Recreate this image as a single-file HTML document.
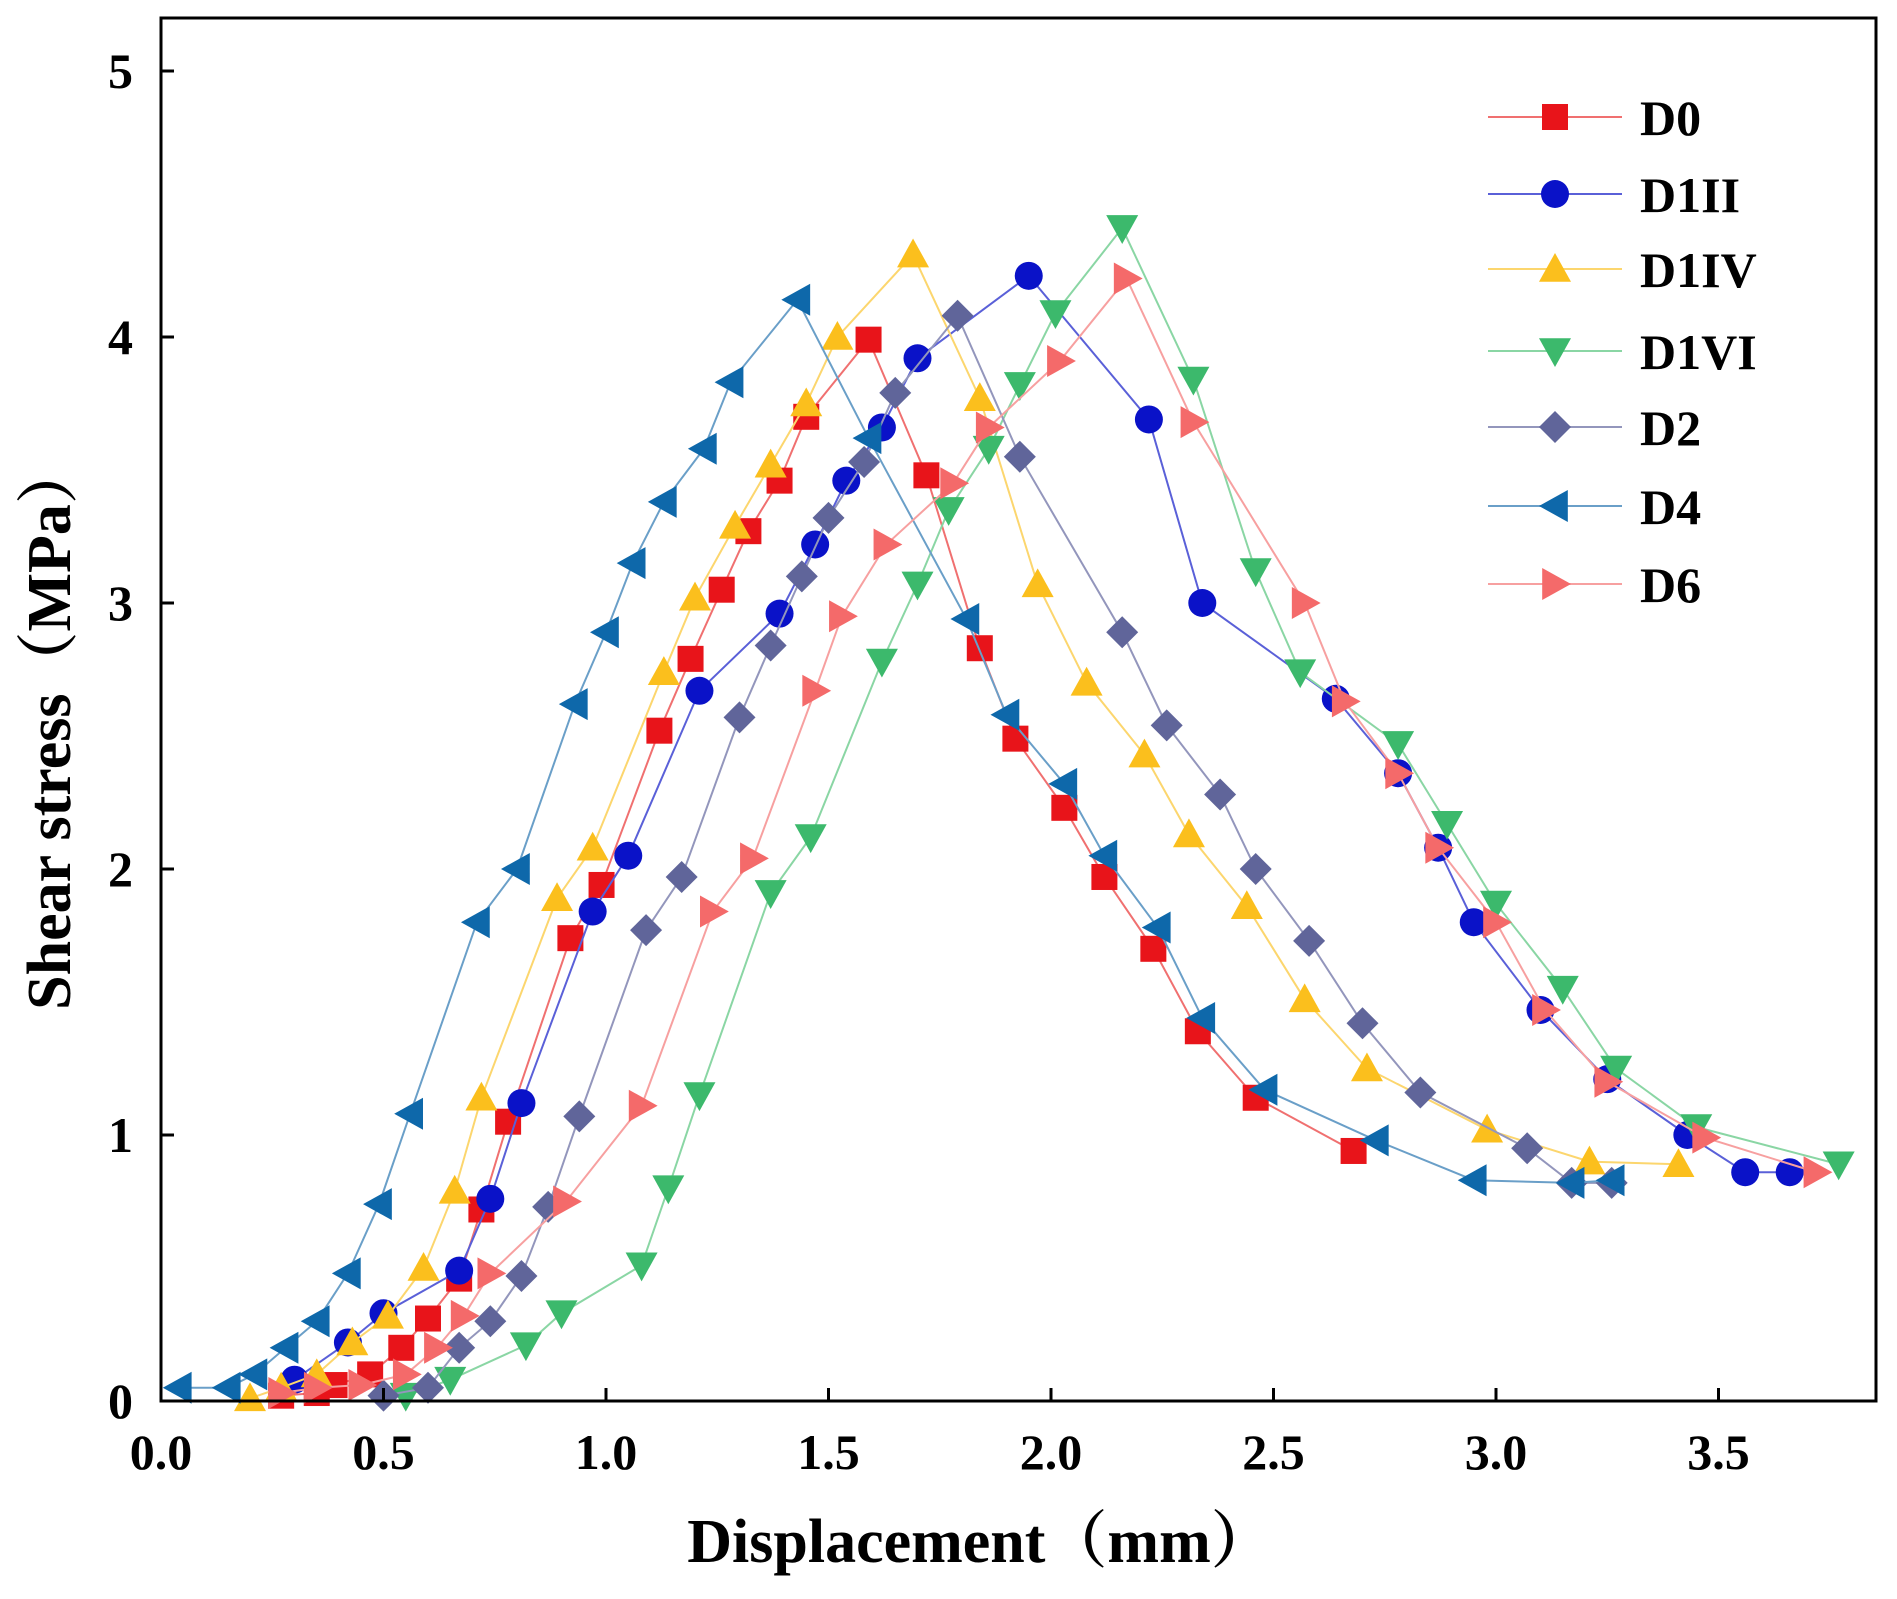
<!DOCTYPE html>
<html><head><meta charset="utf-8"><style>
body{margin:0;background:#fff}
svg{display:block}
text{font-family:"Liberation Serif","Noto Serif CJK SC",serif;font-weight:bold;fill:#000}
</style></head><body>
<svg id="chart" width="1897" height="1599" viewBox="0 0 1897 1599" xmlns="http://www.w3.org/2000/svg">
<g id="plot"></g>
<g id="axes"></g>
<g id="legend"></g>
</svg>
<script>
const xTicks=[0,0.5,1.0,1.5,2.0,2.5,3.0,3.5];
const xTickLabels=["0.0","0.5","1.0","1.5","2.0","2.5","3.0","3.5"];
const yTicks=[0,1,2,3,4,5];
const yTickLabels=["0","1","2","3","4","5"];
const seriesNames=["D0","D1II","D1IV","D1VI","D2","D4","D6"];
const d0=[[0.27,0.02],[0.35,0.03],[0.39,0.06],[0.47,0.1],[0.54,0.2],[0.6,0.31],[0.67,0.46],[0.72,0.72],[0.78,1.05],[0.92,1.74],[0.99,1.94],[1.12,2.52],[1.19,2.79],[1.26,3.05],[1.32,3.27],[1.39,3.46],[1.45,3.7],[1.59,3.99],[1.72,3.48],[1.84,2.83],[1.92,2.49],[2.03,2.23],[2.12,1.97],[2.23,1.7],[2.33,1.39],[2.46,1.14],[2.68,0.94]];
const d1ii=[[0.3,0.08],[0.42,0.22],[0.5,0.33],[0.67,0.49],[0.74,0.76],[0.81,1.12],[0.97,1.84],[1.05,2.05],[1.21,2.67],[1.39,2.96],[1.47,3.22],[1.54,3.46],[1.62,3.66],[1.7,3.92],[1.95,4.23],[2.22,3.69],[2.34,3.0],[2.64,2.64],[2.78,2.36],[2.87,2.08],[2.95,1.8],[3.1,1.47],[3.25,1.21],[3.43,1.0],[3.56,0.86],[3.66,0.86]];
const d1iv=[[0.2,0.01],[0.27,0.05],[0.35,0.1],[0.43,0.22],[0.51,0.32],[0.59,0.5],[0.66,0.79],[0.72,1.14],[0.89,1.89],[0.97,2.08],[1.13,2.74],[1.2,3.02],[1.29,3.29],[1.37,3.52],[1.45,3.75],[1.52,4.0],[1.69,4.31],[1.84,3.77],[1.97,3.07],[2.08,2.7],[2.21,2.43],[2.31,2.13],[2.44,1.86],[2.57,1.51],[2.71,1.25],[2.98,1.02],[3.21,0.9],[3.41,0.89]];
const d1vi=[[0.55,0.02],[0.65,0.08],[0.82,0.21],[0.9,0.33],[1.08,0.51],[1.14,0.8],[1.21,1.15],[1.37,1.91],[1.46,2.12],[1.62,2.78],[1.7,3.07],[1.77,3.35],[1.86,3.58],[1.93,3.82],[2.01,4.09],[2.16,4.41],[2.32,3.84],[2.46,3.12],[2.56,2.74],[2.78,2.47],[2.89,2.17],[3.0,1.87],[3.15,1.55],[3.27,1.25],[3.45,1.03],[3.77,0.89]];
const d2=[[0.5,0.02],[0.6,0.05],[0.67,0.2],[0.74,0.3],[0.81,0.47],[0.87,0.73],[0.94,1.07],[1.09,1.77],[1.17,1.97],[1.3,2.57],[1.37,2.84],[1.44,3.1],[1.5,3.32],[1.58,3.53],[1.65,3.79],[1.79,4.08],[1.93,3.55],[2.16,2.89],[2.26,2.54],[2.38,2.28],[2.46,2.0],[2.58,1.73],[2.7,1.42],[2.83,1.16],[3.07,0.95],[3.17,0.82],[3.26,0.82]];
const d4=[[0.04,0.05],[0.15,0.05],[0.21,0.1],[0.28,0.2],[0.35,0.3],[0.42,0.48],[0.49,0.74],[0.56,1.08],[0.71,1.8],[0.8,2.0],[0.93,2.62],[1.0,2.89],[1.06,3.15],[1.13,3.38],[1.22,3.58],[1.28,3.83],[1.43,4.14],[1.59,3.62],[1.81,2.94],[1.9,2.58],[2.03,2.32],[2.12,2.05],[2.24,1.78],[2.34,1.44],[2.48,1.17],[2.73,0.98],[2.95,0.83],[3.17,0.82],[3.26,0.83]];
const d6=[[0.27,0.03],[0.35,0.05],[0.45,0.06],[0.55,0.1],[0.62,0.2],[0.68,0.32],[0.74,0.48],[0.91,0.75],[1.08,1.11],[1.24,1.84],[1.33,2.04],[1.47,2.67],[1.53,2.95],[1.63,3.22],[1.78,3.45],[1.86,3.66],[2.02,3.91],[2.17,4.22],[2.32,3.68],[2.57,3.0],[2.66,2.63],[2.78,2.36],[2.87,2.08],[3.0,1.8],[3.11,1.47],[3.25,1.2],[3.47,0.99],[3.72,0.86]];
const seriesData=[d0,d1ii,d1iv,d1vi,d2,d4,d6];
const markerColors=["#e8141a","#0a12c8","#fbbf1d","#3cb96c","#60659a","#0e68aa","#f46a6a"];
const lineColors=["#f07070","#5a60d8","#fcd66e","#8ad6a4","#9396bc","#6a9fc8","#f7a0a0"];
const shapes=["square","circle","up","down","diamond","left","right"];

const NS="http://www.w3.org/2000/svg";
const X0=161,X1=1876,Y0=1401,Y1=18;
function sx(v){return X0+v*445;}
function sy(v){return Y0-v*266;}
function mk(tag,attrs,parent){const e=document.createElementNS(NS,tag);for(const k in attrs)e.setAttribute(k,attrs[k]);parent.appendChild(e);return e;}
function marker(shape,cx,cy,color,parent){
  const r=16;let e;
  if(shape==="square")e=mk("rect",{x:cx-13,y:cy-13,width:26,height:26,fill:color},parent);
  else if(shape==="circle")e=mk("circle",{cx:cx,cy:cy,r:14,fill:color},parent);
  else{
    let p;
    if(shape==="up")p=[[0,-r],[r,r*0.8],[-r,r*0.8]];
    else if(shape==="down")p=[[0,r],[r,-r*0.8],[-r,-r*0.8]];
    else if(shape==="left")p=[[-r,0],[r*0.8,-r],[r*0.8,r]];
    else if(shape==="right")p=[[r,0],[-r*0.8,-r],[-r*0.8,r]];
    else p=[[0,-r],[r,0],[0,r],[-r,0]];
    e=mk("polygon",{points:p.map(q=>(cx+q[0])+","+(cy+q[1])).join(" "),fill:color},parent);
  }
  return e;
}
const plot=document.getElementById("plot");
seriesData.forEach((data,i)=>{
  const g=mk("g",{},plot);
  
  
  const line=mk("polyline",{points:data.map(d=>sx(d[0])+","+sy(d[1])).join(" "),fill:"none",stroke:lineColors[i],"stroke-width":2},g);
  
  
  data.forEach(d=>{
    const m=marker(shapes[i],sx(d[0]),sy(d[1]),markerColors[i],g);
    
    
  });
});
const axes=document.getElementById("axes");
const frame=mk("rect",{x:X0,y:Y1,width:X1-X0,height:Y0-Y1,fill:"none",stroke:"#000","stroke-width":3},axes);


xTicks.forEach((v,i)=>{
  const t=mk("line",{x1:sx(v),x2:sx(v),y1:Y0,y2:Y0-13,stroke:"#000","stroke-width":3},axes);
  
  
  const l=mk("text",{x:sx(v),y:Y0+68,"text-anchor":"middle","font-size":50},axes);
  l.textContent=xTickLabels[i];
  
  
});
yTicks.forEach((v,i)=>{
  const t=mk("line",{x1:X0,x2:X0+13,y1:sy(v),y2:sy(v),stroke:"#000","stroke-width":3},axes);
  
  
  const l=mk("text",{x:133,y:sy(v)+17,"text-anchor":"end","font-size":50},axes);
  l.textContent=yTickLabels[i];
  
  
});
const xt=mk("text",{x:980,y:1562,"text-anchor":"middle","font-size":62},axes);
xt.textContent="Displacement（mm）";


const yt=mk("text",{x:0,y:0,"text-anchor":"middle","font-size":62,transform:"translate(70,726) rotate(-90)"},axes);
yt.textContent="Shear stress（MPa）";


const legend=document.getElementById("legend");
const rows=[117,194,269,351,427,506,584];
seriesNames.forEach((n,i)=>{
  const g=mk("g",{},legend);
  
  
  mk("line",{x1:1488,x2:1622,y1:rows[i],y2:rows[i],stroke:lineColors[i],"stroke-width":2},g);
  marker(shapes[i],1555,rows[i],markerColors[i],g);
  const t=mk("text",{x:1640,y:rows[i]+18,"font-size":50},g);
  t.textContent=n;
});
</script>
</body></html>
